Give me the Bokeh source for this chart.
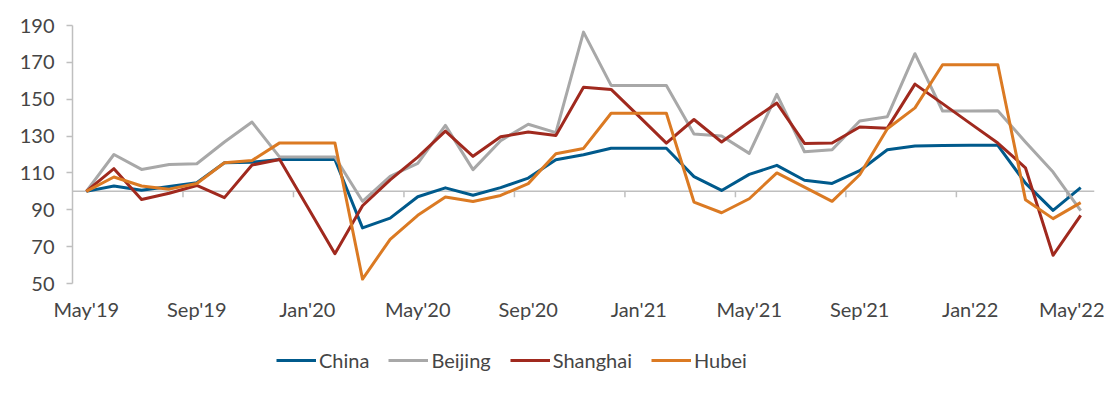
import math
from bokeh.plotting import figure
from bokeh.layouts import column
from bokeh.models import (ColumnDataSource, FixedTicker, Legend, LegendItem, Span)
from bokeh.embed import file_html
from bokeh.resources import INLINE

months = ["May'19", "Jun'19", "Jul'19", "Aug'19", "Sep'19", "Oct'19", "Nov'19", "Dec'19",
          "Jan'20", "Feb'20", "Mar'20", "Apr'20", "May'20", "Jun'20", "Jul'20", "Aug'20",
          "Sep'20", "Oct'20", "Nov'20", "Dec'20", "Jan'21", "Feb'21", "Mar'21", "Apr'21",
          "May'21", "Jun'21", "Jul'21", "Aug'21", "Sep'21", "Oct'21", "Nov'21", "Dec'21",
          "Jan'22", "Feb'22", "Mar'22", "Apr'22", "May'22"]

china = [100, 102.9, 100.6, 102.6, 104.7, 115.5, 115.8, 117.3, 117.3, 117.3, 80.2, 85.5,
         97.1, 101.9, 97.9, 102, 107.2, 117.2, 119.9, 123.4, 123.4, 123.4, 108, 100.5,
         109.2, 114.1, 106, 104.3, 111.2, 122.6, 124.6, 124.9, 125, 125, 104.5, 89.7, 102]
beijing = [100, 120, 111.9, 114.6, 115, 126.8, 137.6, 118.6, 118.6, 118.6, 94.6, 108.2,
           115.2, 135.8, 111.8, 127.5, 136.4, 131.9, 186.4, 157.5, 157.5, 157.5, 131.1, 130,
           120.6, 152.6, 121.5, 122.6, 138.2, 140.5, 174.7, 143.6, 143.6, 143.7, 126.8, 110.5, 89.5]
shanghai = [100, 112.3, 95.6, 99, 103.2, 96.6, 114.3, 117.3, 91.8, 66.2, 92.2, 106.2,
            118.6, 132.7, 119, 129.6, 132.2, 130.3, 156.5, 155.3, 140.8, 126.2, 139, 126.8,
            137.6, 147.9, 126, 126.2, 134.9, 134.3, 158.2, 147.6, 136.9, 126.2, 112.8, 65.3, 87]
hubei = [100, 107.8, 102.9, 101.2, 104.3, 115.5, 116.8, 126.3, 126.3, 126.3, 52.4, 74,
         87, 96.9, 94.5, 97.8, 104.2, 120.4, 123.3, 142.4, 142.4, 142.4, 94.2, 88.4,
         96, 110, 102.3, 94.6, 109, 134, 145.3, 168.7, 168.7, 168.7, 95.5, 85.2, 93.9]

series_names = ["China", "Beijing", "Shanghai", "Hubei"]
colors = ["#005a8c", "#a8a8a8", "#a0291e", "#db7a23"]
y_ticks = [50, 70, 90, 110, 130, 150, 170, 190]
baseline = 100

idx = list(range(len(months)))
src = ColumnDataSource(dict(x=idx, China=china, Beijing=beijing, Shanghai=shanghai, Hubei=hubei))

FONT = "Lato"
TXT = "#454545"

p = figure(width=1104, height=323, x_range=(-0.5, len(months) - 0.5), y_range=(50, 190),
           output_backend="svg", toolbar_location=None,
           min_border_left=72, min_border_right=10, min_border_top=25, min_border_bottom=40)
p.outline_line_color = None
p.grid.visible = False

xa = p.xaxis[0]
label_ticks = idx[::4]
xa.ticker = FixedTicker(ticks=label_ticks)
xa.major_label_overrides = {i: months[i] for i in label_ticks}
xa.axis_line_color = None
xa.major_tick_line_color = None
xa.minor_tick_line_color = None
xa.major_label_standoff = 7
xa.major_label_text_font = FONT
xa.major_label_text_font_size = "20px"
xa.major_label_text_color = TXT

ya = p.yaxis[0]
ya.ticker = FixedTicker(ticks=y_ticks)
ya.axis_line_color = "#bfbfbf"
ya.axis_line_width = 1.5
ya.major_tick_line_color = "#bfbfbf"
ya.major_tick_line_width = 1.5
ya.major_tick_out = 6
ya.major_tick_in = 0
ya.minor_tick_line_color = None
ya.major_label_standoff = 12
ya.major_label_text_font = FONT
ya.major_label_text_font_size = "20px"
ya.major_label_text_color = TXT

# horizontal baseline at 100 with category-boundary ticks
p.add_layout(Span(location=baseline, dimension="width", line_color="#bfbfbf", line_width=1.5,
                  level="underlay"))
boundary_ticks = [i + 3.5 for i in idx[::4]][:-1]
p.ray(x=boundary_ticks, y=[baseline] * len(boundary_ticks), length=6, length_units="screen",
      angle=-math.pi / 2, line_color="#bfbfbf", line_width=1.5, level="underlay")

for name, c in zip(series_names, colors):
    p.line("x", name, source=src, line_color=c, line_width=3, line_join="round")

# legend strip (separate figure; its lines lie outside its range so only the legend shows)
q = figure(width=1104, height=58, x_range=(-0.5, len(months) - 0.5), y_range=(1000, 1001),
           output_backend="svg", toolbar_location=None,
           min_border_left=0, min_border_right=0, min_border_top=0, min_border_bottom=0)
q.outline_line_color = None
q.grid.visible = False
q.axis.visible = False
items = []
for name, c in zip(series_names, colors):
    r = q.line("x", name, source=src, line_color=c, line_width=3)
    items.append(LegendItem(label=name, renderers=[r]))
legend = Legend(items=items, orientation="horizontal", location=(204, 9),
                border_line_color=None, background_fill_alpha=0,
                glyph_width=40, glyph_height=20, label_standoff=3, spacing=19,
                label_text_font=FONT, label_text_font_size="20px", label_text_color=TXT,
                padding=0, margin=0)
q.add_layout(legend)

open("out.html", "w").write(file_html(column(p, q, spacing=0), INLINE))
